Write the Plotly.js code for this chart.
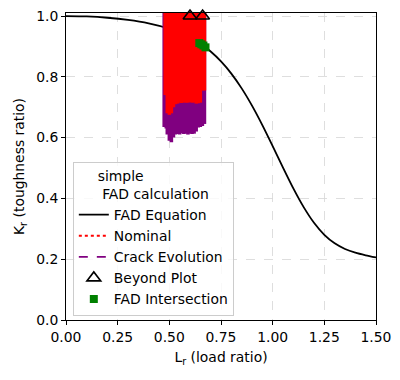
<!DOCTYPE html>
<html><head><meta charset="utf-8">
<script src="https://cdn.plot.ly/plotly-3.0.1.min.js"></script>
<style>body{margin:0;background:#fff}#c{width:400px;height:380px}</style>
</head><body><div id="c"></div>
<script>
// FAD equation curve
const fadLr = [0,0.1,0.2,0.3,0.4,0.5,0.55,0.6,0.65,0.7,0.75,0.8,0.85,0.9,0.95,1.0,1.05,1.1,1.15,1.2,1.25,1.3,1.35,1.4,1.45,1.5];
const fadKr = [1.0,0.9986,0.9944,0.9871,0.9758,0.9582,0.9457,0.9297,0.9093,0.8834,0.8508,0.8106,0.7620,0.7053,0.6414,0.5723,0.5014,0.4330,0.3713,0.3198,0.2802,0.2522,0.2337,0.2215,0.2129,0.2058];
// Crack evolution paths: Lr position and starting Kr (all run past top of plot)
const evoLr = [0.475,0.485,0.49,0.50,0.51,0.52,0.53,0.54,0.55,0.56,0.57,0.58,0.59,0.60,0.61,0.62,0.63,0.64,0.65,0.66,0.67];
const evoKr0 = [0.635,0.63,0.61,0.59,0.585,0.60,0.61,0.612,0.61,0.614,0.612,0.613,0.61,0.613,0.612,0.613,0.62,0.633,0.635,0.638,0.645];
// Nominal paths
const nomLr = [0.48,0.49,0.50,0.51,0.52,0.53,0.54,0.55,0.56,0.57,0.58,0.59,0.60,0.61,0.62,0.63,0.64,0.65,0.66,0.67];
const nomKr0 = [0.74,0.68,0.675,0.68,0.70,0.71,0.712,0.715,0.714,0.716,0.715,0.715,0.717,0.715,0.716,0.712,0.713,0.715,0.755,0.755];
const pathEndKr = 1.06;
// Beyond plot markers
const beyondLr = [0.600,0.661];
const beyondKr = [1.0,1.0];
// FAD intersections
const interLr = [0.645,0.655,0.665,0.675];
const interKr = [0.911,0.907,0.903,0.897];

const traces = [];
traces.push({x: fadLr, y: fadKr, mode:'lines', name:'FAD Equation', line:{color:'black', width:1.8, shape:'spline', smoothing:0.7}});
evoLr.forEach((lr,i)=>{
  traces.push({x:[lr,lr], y:[evoKr0[i], pathEndKr], mode:'lines', name:'Crack Evolution', legendgroup:'evo',
    showlegend:false, line:{color:'purple', width:3.5}, hoverinfo:'skip'});
});
nomLr.forEach((lr,i)=>{
  traces.push({x:[lr,lr], y:[nomKr0[i], pathEndKr], mode:'lines', name:'Nominal', legendgroup:'nom',
    showlegend:false, line:{color:'red', width:3.5}, hoverinfo:'skip'});
});
// legend entries (drawn inside the filled band)
traces.splice(1,0,{x:[nomLr[5],nomLr[5]], y:[nomKr0[5], pathEndKr], mode:'lines', name:'Nominal', legendgroup:'nom',
  line:{color:'red', width:1.8, dash:'dot'}});
traces.splice(2,0,{x:[evoLr[0],evoLr[0]], y:[evoKr0[0], pathEndKr], mode:'lines', name:'Crack Evolution', legendgroup:'evo',
  line:{color:'purple', width:1.8, dash:'dash'}});
traces.push({x: beyondLr, y: beyondKr, mode:'markers', name:'Beyond Plot', cliponaxis:false,
  marker:{symbol:'triangle-up-open', size:12, color:'black', line:{width:1.6, color:'black'}}});
traces.push({x: interLr, y: interKr, mode:'markers', name:'FAD Intersection',
  marker:{symbol:'square', size:8, color:'green', line:{width:0}}});

const font = {family:'DejaVu Sans', size:13.9, color:'black'};
const layout = {
  width:400, height:380, margin:{l:66, r:24, t:13, b:60},
  paper_bgcolor:'white', plot_bgcolor:'white', font: font,
  showlegend:true,
  xaxis:{range:[0,1.5], tickvals:[0,0.25,0.5,0.75,1.0,1.25,1.5], tickformat:'.2f',
    showgrid:true, gridcolor:'#d6d6d6', griddash:'dash', gridwidth:0.8,
    ticks:'outside', ticklen:4, tickcolor:'black', showline:true, linecolor:'black', linewidth:1, mirror:true,
    zeroline:false, title:{text:'L<sub>r</sub> (load ratio)', font:font, standoff:8}},
  yaxis:{range:[0,1.01], tickvals:[0,0.2,0.4,0.6,0.8,1.0], tickformat:'.1f',
    showgrid:true, gridcolor:'#d6d6d6', griddash:'dash', gridwidth:0.8,
    ticks:'outside', ticklen:4, tickcolor:'black', showline:true, linecolor:'black', linewidth:1, mirror:true,
    zeroline:false, title:{text:'K<sub>r</sub> (toughness ratio)', font:font, standoff:8}},
  legend:{x:0.022, y:0.013, xanchor:'left', yanchor:'bottom', bgcolor:'rgba(255,255,255,0.8)',
    bordercolor:'#cccccc', borderwidth:1, font:font, tracegroupgap:0, itemwidth:30,
    title:{text:'simple<br>&nbsp;FAD calculation', font:font, side:'top center'}}
};
Plotly.newPlot('c', traces, layout, {staticPlot:true, displayModeBar:false});
</script></body></html>
